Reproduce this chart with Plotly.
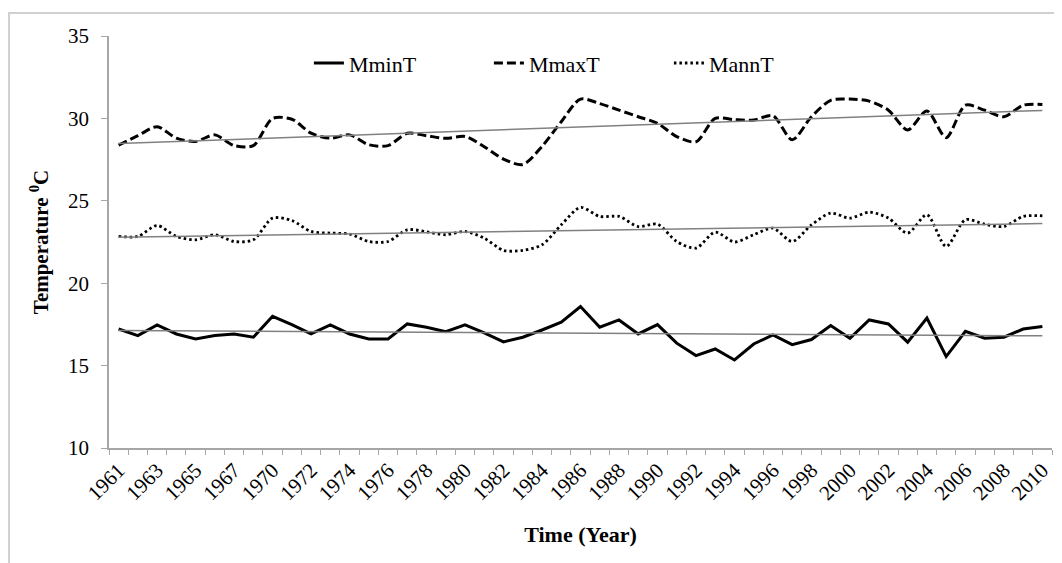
import numpy as np
import plotly.graph_objects as go

years = ["1961", "1962", "1963", "1964", "1965", "1966", "1967", "1969",
         "1970", "1971", "1972", "1973", "1974", "1975", "1976", "1977",
         "1978", "1979", "1980", "1981", "1982", "1983", "1984", "1985",
         "1986", "1987", "1988", "1989", "1990", "1991", "1992", "1993",
         "1994", "1995", "1996", "1997", "1998", "1999", "2000", "2001",
         "2002", "2003", "2004", "2005", "2006", "2007", "2008", "2009", "2010"]

mmin_t = [17.22, 16.82, 17.47, 16.92, 16.62, 16.82, 16.92, 16.72,
          17.99, 17.49, 16.92, 17.47, 16.92, 16.62, 16.62, 17.53,
          17.33, 17.06, 17.47, 16.98, 16.44, 16.72, 17.16, 17.63,
          18.58, 17.33, 17.77, 16.92, 17.49, 16.36, 15.61, 16.01,
          15.34, 16.31, 16.86, 16.27, 16.58, 17.43, 16.66, 17.77,
          17.53, 16.42, 17.89, 15.55, 17.08, 16.66, 16.72, 17.22, 17.37]

mmax_t = [28.38, 28.95, 29.5, 28.8, 28.6, 29.0, 28.35, 28.35,
          30.0, 29.95, 29.1, 28.8, 29.0, 28.4, 28.35, 29.1,
          28.95, 28.79, 28.9, 28.28, 27.53, 27.2, 28.3, 29.8,
          31.17, 30.9, 30.5, 30.1, 29.7, 28.9, 28.58, 30.0,
          29.92, 29.9, 30.16, 28.7, 30.1, 31.1, 31.17, 31.05,
          30.5, 29.3, 30.45, 28.83, 30.8, 30.5, 30.1, 30.8, 30.85]

mann_t = [22.84, 22.84, 23.5, 22.84, 22.63, 22.94, 22.53, 22.63,
          23.95, 23.8, 23.14, 23.04, 22.98, 22.53, 22.53, 23.24,
          23.12, 22.94, 23.14, 22.73, 21.99, 21.99, 22.33, 23.54,
          24.6, 24.05, 24.05, 23.44, 23.58, 22.53, 22.13, 23.1,
          22.5, 22.94, 23.34, 22.53, 23.54, 24.25, 23.95, 24.31,
          23.95, 23.04, 24.15, 22.23, 23.85, 23.58, 23.44, 24.05, 24.09]

tick_text = [y if i % 2 == 0 else "" for i, y in enumerate(years)]

FONT = "Liberation Serif"

fig = go.Figure()

series = [
    ("MminT", mmin_t, "solid", False, 3),
    ("MmaxT", mmax_t, "9px,4px", True, 3),
    ("MannT", mann_t, "2.5px,3px", True, 2.8),
]

idx = np.arange(len(years))
for name, vals, dash, smooth, w in series:
    fig.add_trace(go.Scatter(
        x=years, y=vals, mode="lines", name=name,
        line=dict(color="black", width=w, dash=dash,
                  shape="spline" if smooth else "linear", smoothing=0.8),
    ))

for name, vals, dash, smooth, w in series:
    slope, intercept = np.polyfit(idx, np.array(vals), 1)
    fit = slope * idx + intercept
    fig.add_trace(go.Scatter(
        x=years, y=fit, mode="lines", showlegend=False, hoverinfo="skip",
        line=dict(color="#808080", width=1.5),
    ))

fig.update_layout(
    width=1054, height=555,
    margin=dict(l=101, r=10, t=28, b=115),
    paper_bgcolor="white", plot_bgcolor="white",
    font=dict(family=FONT, color="black", size=20),
    showlegend=True,
    legend=dict(
        orientation="h", x=0.212, xanchor="left", y=0.985, yanchor="top",
        font=dict(family=FONT, size=22, color="black"),
        entrywidth=135, entrywidthmode="pixels",
        bgcolor="rgba(0,0,0,0)", traceorder="normal",
    ),
    xaxis=dict(
        type="category", categoryorder="array", categoryarray=years,
        range=[-0.5, len(years) - 0.5],
        tickmode="array", tickvals=years, ticktext=tick_text,
        tickson="boundaries", ticks="outside", ticklen=5,
        tickcolor="#a6a6a6", tickwidth=1,
        tickangle=-45, tickfont=dict(family=FONT, size=21, color="black"),
        showline=True, linecolor="#a6a6a6", linewidth=1.5,
        showgrid=False, zeroline=False, automargin=False,
        title=dict(text="<b>Time (Year)</b>", font=dict(family=FONT, size=22),
                   standoff=22),
    ),
    yaxis=dict(
        range=[10, 35], tickmode="array", tickvals=[10, 15, 20, 25, 30, 35],
        ticks="outside", ticklen=6, tickcolor="#a6a6a6", tickwidth=1,
        ticklabelstandoff=8,
        tickfont=dict(family=FONT, size=21, color="black"),
        showline=True, linecolor="#a6a6a6", linewidth=1.5,
        showgrid=False, zeroline=False, automargin=False,
        title=dict(text="<b>Temperature <sup>0</sup>C</b>",
                   font=dict(family=FONT, size=21), standoff=14),
    ),
    shapes=[dict(type="rect", xref="paper", yref="paper",
                 x0=-0.106, x1=1.03, y0=-0.35, y1=1.0558,
                 line=dict(color="#d0d0d0", width=2), layer="below")],
)

fig.write_html("out.html")
